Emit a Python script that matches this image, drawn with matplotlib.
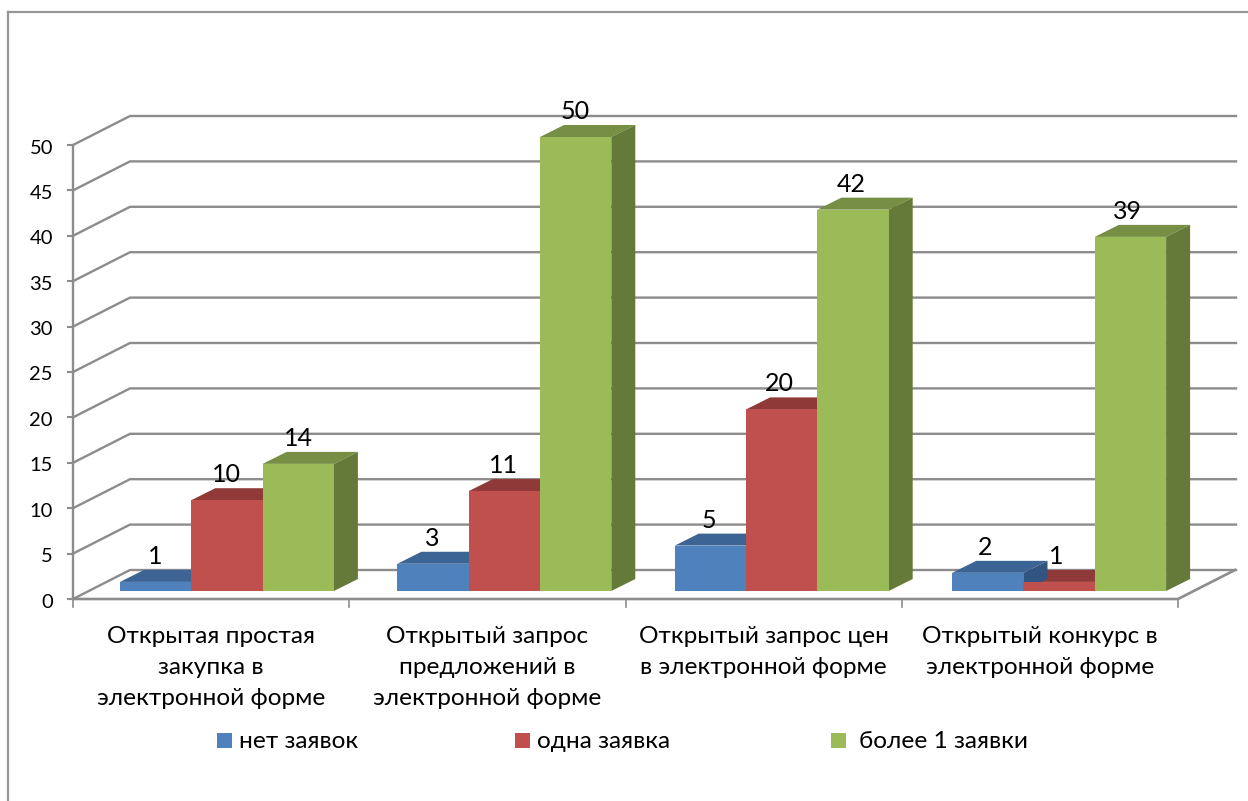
import numpy as np
import matplotlib
matplotlib.use("Agg")
import matplotlib.pyplot as plt
from matplotlib.patches import Polygon, Rectangle

categories = ["Открытая простая\nзакупка в\nэлектронной форме",
              "Открытый запрос\nпредложений в\nэлектронной форме",
              "Открытый запрос цен\nв электронной форме",
              "Открытый конкурс в\nэлектронной форме"]
series_names = ["нет заявок", "одна заявка", "более 1 заявки"]
no_bids = [1, 3, 5, 2]
one_bid = [10, 11, 20, 1]
many_bids = [14, 50, 42, 39]
y_ticks = list(range(0, 55, 5))

front_colors = ["#4f81bd", "#c0504d", "#9bbb59"]
top_colors = ["#3c6494", "#8f3a38", "#778f44"]
side_colors = ["#325480", "#7d3231", "#657a38"]
grid_color = "#8c8c8c"

W, H = 1248, 801
plt.rcParams["font.family"] = ["Lato", "Open Sans", "DejaVu Sans"]

fig = plt.figure(figsize=(W / 100, H / 100), dpi=100)
# plot box in pixels: floor front edge y=599, value 50 at y=145
x0, x1, y0, y50 = 73, 1178, 599, 145
ax = fig.add_axes([x0 / W, 1 - y0 / H, (x1 - x0) / W, (y0 - y50) / H])
ax.set_xlim(0, 4)
ax.set_ylim(0, 50)
ax.axis("off")

px_x = 4 / (x1 - x0)
px_y = 50 / (y0 - y50)

# outer frame, runs off the right and bottom
fig.add_artist(plt.Line2D([8 / W, 8 / W], [0, 1 - 12 / H], color="#969696", lw=1.6))
fig.add_artist(plt.Line2D([8 / W, 1], [1 - 12 / H, 1 - 12 / H], color="#969696", lw=1.6))

# walls and floor
wall_dx, wall_dy = 57 * px_x, 29 * px_y
for v in y_ticks:
    ax.plot([0, wall_dx, 4 + wall_dx + 1 * px_x], [v, v + wall_dy, v + wall_dy], color=grid_color,
            lw=1.7, clip_on=False, zorder=1)
    ax.plot([-5 * px_x, 0], [v, v], color=grid_color, lw=1.5, clip_on=False, zorder=1)
ax.plot([0, 4, 4 + wall_dx], [0, 0, wall_dy], color=grid_color, lw=1.9, clip_on=False, zorder=1)
ax.plot([0, 0], [0, 50], color=grid_color, lw=1.7, clip_on=False, zorder=1)
for i in range(5):
    ax.plot([i, i], [0, -8 * px_y], color=grid_color, lw=1.2, clip_on=False, zorder=1)

# bars
series = [no_bids, one_bid, many_bids]
bar_w = 71.3 * px_x
group_step = 277.4 * px_x
start = 47 * px_x
base = 8 * px_y
dx, dy = 24 * px_x, 12 * px_y
for i in range(len(categories)):
    for s, vals in enumerate(series):
        v = vals[i]
        left = i * group_step + start + s * bar_w
        top = base + v
        ax.add_patch(Polygon([(left, top), (left + dx, top + dy), (left + bar_w + dx, top + dy),
                              (left + bar_w, top)], fc=top_colors[s], ec="none", zorder=2, clip_on=False))
        ax.add_patch(Polygon([(left + bar_w, base), (left + bar_w + dx, base + dy),
                              (left + bar_w + dx, top + dy), (left + bar_w, top)],
                             fc=side_colors[s], ec="none", zorder=3, clip_on=False))
        ax.bar(left, v, bar_w, bottom=base, align="edge", color=front_colors[s], zorder=4, clip_on=False)
        ax.text(left + bar_w / 2 - i * px_x, top + 14 * px_y, str(v), ha="center", va="bottom", fontsize=18,
                color="black", zorder=5, clip_on=False)

# axis labels
for v in y_ticks:
    ax.text(-20 * px_x, v - 3 * px_y, str(v), ha="right", va="center", fontsize=14.5, clip_on=False)
for i, lab in enumerate(categories):
    ax.text(i + 0.5, -27 * px_y, lab, ha="center", va="top", fontsize=17.6, linespacing=1.6, clip_on=False)

# legend
leg_x = [217, 515, 831]
text_x = [239, 537, 859]
for name, c, lx, tx in zip(series_names, front_colors, leg_x, text_x):
    fig.add_artist(Rectangle((lx / W, 1 - 748 / H), 15 / W, 15 / H, transform=fig.transFigure, fc=c, ec="none"))
    fig.text(tx / W, 1 - 741 / H, name, ha="left", va="center", fontsize=17.6)

fig.savefig("out.png", dpi=100)
